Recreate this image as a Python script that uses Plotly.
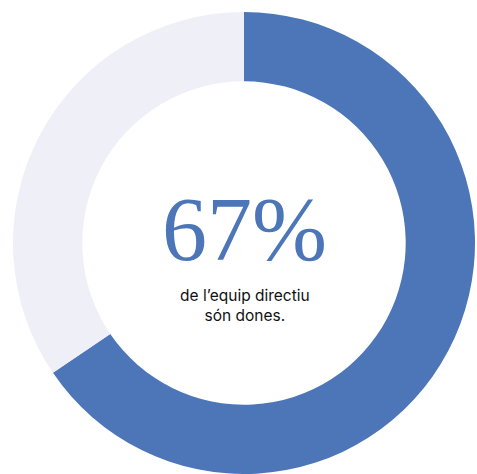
import plotly.graph_objects as go

labels = ["Dones", "Homes"]
values = [65.5, 34.5]
colors = ["#4C76B8", "#EFEFF8"]
big_label = "67%"
sub_label = "de l’equip directiu<br>són dones."

W, H = 477, 474

fig = go.Figure(go.Pie(
    labels=labels,
    values=values,
    hole=0.70,
    sort=False,
    direction="clockwise",
    rotation=0,
    marker=dict(colors=colors, line=dict(width=0)),
    textinfo="none",
    hoverinfo="label+percent",
    showlegend=False,
    domain=dict(x=[11 / W, 1.0], y=[0.0, 462 / H]),
))

fig.add_annotation(
    x=244 / W, y=(H - 229) / H, xref="paper", yref="paper",
    text=big_label, showarrow=False,
    font=dict(family="Liberation Serif", size=90, color="#4C76B8"),
    xanchor="center", yanchor="middle",
)
fig.add_annotation(
    x=245 / W, y=(H - 305) / H, xref="paper", yref="paper",
    text=sub_label, showarrow=False,
    font=dict(family="Inter", size=15.5, color="#111111"),
    xanchor="center", yanchor="middle", align="center",
)

fig.update_layout(
    width=W, height=H,
    margin=dict(l=0, r=0, t=0, b=0),
    paper_bgcolor="white", plot_bgcolor="white",
)

fig.write_html("out.html")
